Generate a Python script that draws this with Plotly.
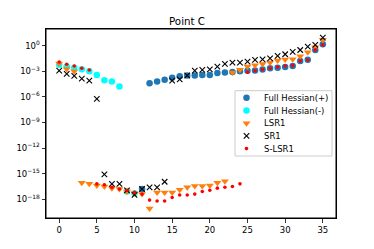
import plotly.graph_objects as go

# log10 of the values
hess_pos_x = list(range(11, 36))
hess_pos_log = [-16.8, -4.4, -4.2, -4.0, -3.75, -3.6, -3.5, -3.5, -3.45, -3.45, -3.2, -3.15,
                -3.1, -3.0, -2.95, -2.9, -2.8, -2.65, -2.6, -2.5, -2.4, -1.8, -1.65, -0.5, 0.15]

hess_neg_x = list(range(0, 11))
hess_neg_log = [-2.25, -2.45, -2.6, -2.77, -3.0, -3.45, -4.05, -4.2, -4.8, -17.1, -17.3]

lsr1_x = list(range(0, 36))
lsr1_log = [-2.1, -2.75, -3.0, -16.06, -16.2, -16.4, -16.5, -16.7, -16.8, -17.1, -17.3, -17.4,
            -19.1, -17.2, -17.2, -17.2, -16.9, -16.6, -16.45, -16.45, -16.4, -16.06, -15.9,
            -3.15, -2.84, -2.45, -2.3, -2.14, -1.99, -1.75, -1.62, -1.6, -1.25, -0.78, -0.2, 0.7]

sr1_x = list(range(0, 36))
sr1_log = [-2.92, -3.3, -3.55, -3.86, -4.1, -6.24, -15.1, -16.2, -16.2, -16.95, -17.5, -16.8,
           -16.6, -16.6, -15.95, -4.1, -3.95, -3.5, -2.92, -2.85, -2.77, -2.46, -2.14, -1.99,
           -1.99, -1.87, -1.68, -1.6, -1.48, -1.21, -1.01, -0.74, -0.51, -0.12, 0.08, 0.94]

slsr1_x = list(range(0, 36))
slsr1_log = [-1.91, -2.18, -2.38, -2.65, -2.85, -16.2, -16.3, -16.6, -16.8, -16.95, -17.2, -17.4,
             -18.1, -18.2, -18.2, -17.8, -17.5, -17.5, -17.4, -17.1, -16.95, -16.7, -16.6,
             -16.5, -16.2, -3.12, -2.95, -2.81, -2.65, -2.5, -2.38, -2.34, -1.8, -1.68, -0.5, 0.08]

series_names = ["Full Hessian(+)", "Full Hessian(-)", "LSR1", "SR1", "S-LSR1"]

x_ticks = [0, 5, 10, 15, 20, 25, 30, 35]
y_tick_exps = [0, -3, -6, -9, -12, -15, -18]
y_tick_text = ["10<sup>%s</sup>" % (str(e).replace("-", "\u2212")) for e in y_tick_exps]

FONT = "DejaVu Sans"

styles = [
    dict(color="#1f77b4", size=6.5, symbol="circle"),
    dict(color="#00ffff", size=6.5, symbol="circle"),
    dict(color="#ff7f0e", size=7, symbol="triangle-down"),
    dict(color="black", size=5.5, symbol="x-thin", line=dict(color="black", width=1.1)),
    dict(color="#ff0000", size=3.6, symbol="circle"),
]


def vals(logs):
    return [10 ** v for v in logs]


fig = go.Figure()
data = [(hess_pos_x, hess_pos_log), (hess_neg_x, hess_neg_log), (lsr1_x, lsr1_log),
        (sr1_x, sr1_log), (slsr1_x, slsr1_log)]
for (xs, ls), name, st in zip(data, series_names, styles):
    fig.add_trace(go.Scatter(x=xs, y=vals(ls), mode="markers", name=name, marker=st,
                             showlegend=False))

# compact legend drawn on a pixel-coordinate overlay axis
L_LEFT, L_RIGHT, L_TOP, L_BOTTOM = 235, 332, 90.7, 156
ROW0, ROWGAP = 97.8, 12.7
for i, (name, st) in enumerate(zip(series_names, styles)):
    yy = ROW0 + i * ROWGAP
    fig.add_trace(go.Scatter(x=[246.5], y=[yy], mode="markers", marker=st, xaxis="x2", yaxis="y2",
                             showlegend=False, hoverinfo="skip"))
    fig.add_annotation(x=262, y=yy, xref="x2", yref="y2", text=name, showarrow=False,
                       xanchor="left", yanchor="middle",
                       font=dict(family=FONT, size=8.5, color="black"))
fig.add_shape(type="rect", xref="x2", yref="y2", x0=L_LEFT, x1=L_RIGHT, y0=L_TOP, y1=L_BOTTOM,
              line=dict(color="#cccccc", width=1), fillcolor="white", layer="below")
# axes frame
fig.add_shape(type="rect", xref="paper", yref="paper", x0=0, x1=1, y0=0, y1=1,
              line=dict(color="black", width=1), fillcolor="rgba(0,0,0,0)", layer="above")

axis_common = dict(showgrid=False, zeroline=False, showline=True, linecolor="black", linewidth=1,
                   mirror=True, ticks="outside", ticklen=3.5, tickwidth=0.8, tickcolor="black",
                   automargin=False,
                   tickfont=dict(family=FONT, size=8.5, color="black"))

fig.update_layout(
    width=374, height=249,
    margin=dict(l=46, r=38, t=29, b=31),
    paper_bgcolor="white", plot_bgcolor="white",
    title=dict(text="Point C", x=0.5, xanchor="center", y=1 - 21 / 249, yanchor="middle",
               font=dict(family=FONT, size=10.3, color="black")),
    font=dict(family=FONT, size=8.5, color="black"),
    showlegend=False,
    hovermode=False,
    xaxis=dict(range=[-1.75, 36.75], tickvals=x_ticks, **axis_common),
    yaxis=dict(type="log", range=[-20.2, 1.95], tickvals=[10 ** e for e in y_tick_exps],
               ticktext=y_tick_text, **axis_common),
    xaxis2=dict(overlaying="x", range=[46, 336], visible=False, anchor="y2", fixedrange=True),
    yaxis2=dict(overlaying="y", range=[218, 29], visible=False, anchor="x2", fixedrange=True),
)

fig.write_html("out.html", config={"displayModeBar": False, "staticPlot": True},
               post_script="document.body.style.margin='0';document.body.style.overflow='hidden';")
